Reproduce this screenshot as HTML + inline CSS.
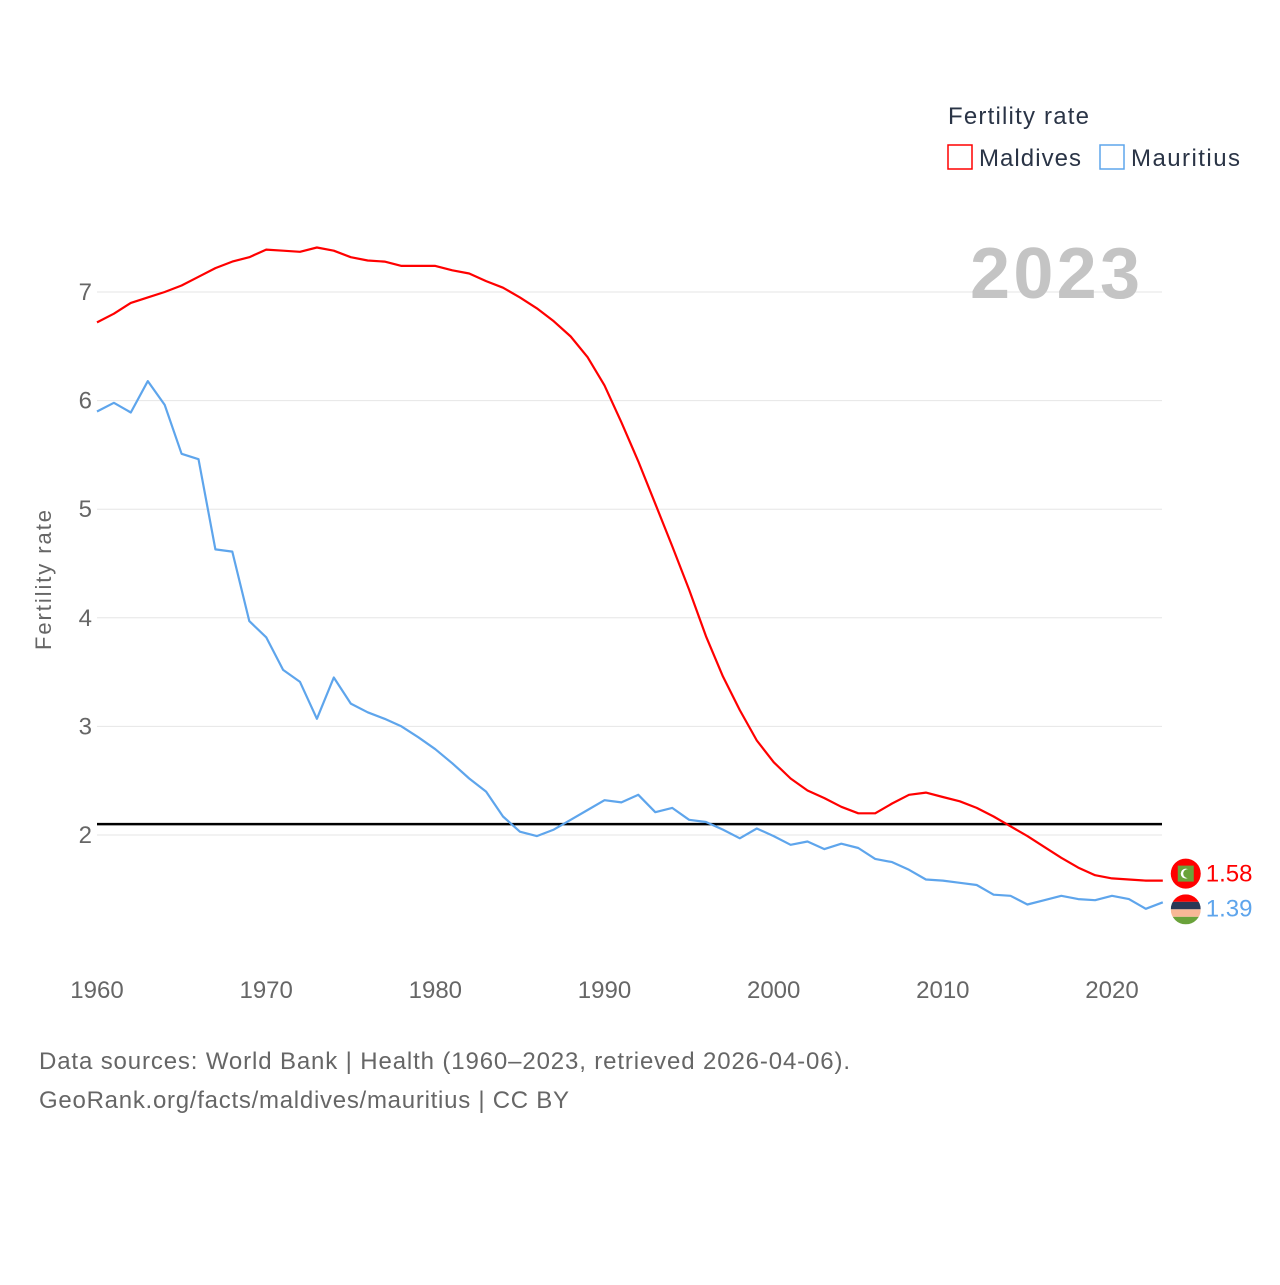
<!DOCTYPE html>
<html><head><meta charset="utf-8"><style>
body{margin:0;background:#fff;width:1280px;height:1280px;overflow:hidden;font-family:"Liberation Sans",sans-serif}
</style></head><body>
<svg id="chart" width="1280" height="1280" viewBox="0 0 1280 1280" xmlns="http://www.w3.org/2000/svg" font-family="Liberation Sans, sans-serif">
<g id="grid"></g>
<g id="yticks"></g>
<g id="xticks"></g>
<text transform="translate(51,580) rotate(-90)" text-anchor="middle" font-size="22" fill="#666" textLength="140">Fertility rate</text>
<text x="1140" y="298" text-anchor="end" font-size="72" font-weight="bold" fill="#c4c4c4" textLength="170">2023</text>
<g id="series"></g>
<g>
<text x="948" y="124" font-size="24" fill="#2a3446" textLength="141">Fertility rate</text>
<rect x="948" y="145" width="24" height="24" fill="none" stroke="#ff0000" stroke-width="1.5"/>
<text x="979" y="166" font-size="24" fill="#2a3446" textLength="102">Maldives</text>
<rect x="1100" y="145" width="24" height="24" fill="none" stroke="#5ea5ec" stroke-width="1.5"/>
<text x="1131" y="166" font-size="24" fill="#2a3446" textLength="109">Mauritius</text>
</g>
<text x="39" y="1069" font-size="24" fill="#666" textLength="811">Data sources: World Bank | Health (1960–2023, retrieved 2026-04-06).</text>
<text x="39" y="1108" font-size="24" fill="#666" textLength="530">GeoRank.org/facts/maldives/mauritius | CC BY</text>
</svg>
<script>
const years=[];for(let y=1960;y<=2023;y++)years.push(y);
const maldives=[6.72,6.80,6.90,6.95,7.00,7.06,7.14,7.22,7.28,7.32,7.39,7.38,7.37,7.41,7.38,7.32,7.29,7.28,7.24,7.24,7.24,7.20,7.17,7.10,7.04,6.95,6.85,6.73,6.59,6.40,6.14,5.80,5.44,5.05,4.66,4.26,3.83,3.46,3.15,2.87,2.67,2.52,2.41,2.34,2.26,2.20,2.20,2.29,2.37,2.39,2.35,2.31,2.25,2.17,2.08,1.99,1.89,1.79,1.70,1.63,1.60,1.59,1.58,1.58];
const mauritius=[5.90,5.98,5.89,6.18,5.96,5.51,5.46,4.63,4.61,3.97,3.82,3.52,3.41,3.07,3.45,3.21,3.13,3.07,3.00,2.90,2.79,2.66,2.52,2.40,2.17,2.03,1.99,2.05,2.14,2.23,2.32,2.30,2.37,2.21,2.25,2.14,2.12,2.05,1.97,2.06,1.99,1.91,1.94,1.87,1.92,1.88,1.78,1.75,1.68,1.59,1.58,1.56,1.54,1.45,1.44,1.36,1.40,1.44,1.41,1.40,1.44,1.41,1.32,1.38];
const yTicks=[2,3,4,5,6,7];
const xTicks=[1960,1970,1980,1990,2000,2010,2020];
const replacement=2.1;
const lastLabels=["1.58","1.39"];
const NS="http://www.w3.org/2000/svg";
const X=y=>97+(y-1960)*(1015/60);
const Y=v=>835-(v-2)*108.6;
function mk(t,a,p){const e=document.createElementNS(NS,t);for(const k in a)e.setAttribute(k,a[k]);p.appendChild(e);return e;}
const grid=document.getElementById('grid'),yt=document.getElementById('yticks'),xt=document.getElementById('xticks'),ser=document.getElementById('series');
yTicks.forEach(v=>{
 const l=mk('line',{x1:97,x2:1162,y1:Y(v),y2:Y(v),stroke:'#e6e6e6','stroke-width':1},grid);
 
 
 const t=mk('text',{x:92,y:Y(v)+8,'text-anchor':'end','font-size':24,fill:'#666'},yt);t.textContent=v;
 
 
});
xTicks.forEach(v=>{
 const t=mk('text',{x:X(v),y:998,'text-anchor':'middle','font-size':24,fill:'#666'},xt);t.textContent=v;
 
 
});
const rl=mk('line',{x1:97,x2:1162,y1:Y(replacement),y2:Y(replacement),stroke:'#000','stroke-width':2.5},ser);


function line(vals,color,name){
 const d=vals.map((v,i)=>(i?'L':'M')+X(years[i]).toFixed(1)+','+Y(v).toFixed(1)).join('');
 const p=mk('path',{d:d,fill:'none',stroke:color,'stroke-width':2.2,'stroke-linejoin':'round'},ser);
 
 
}
line(mauritius,'#5ea5ec','line-mauritius');
line(maldives,'#ff0000','line-maldives');
const lx=X(2023);
const m1=mk('circle',{cx:lx+23,cy:Y(maldives[63])-7,r:15,fill:'#ff0000'},ser);


mk('rect',{x:lx+15,y:Y(maldives[63])-15,width:16,height:16,fill:'#6aa23a'},ser);
mk('circle',{cx:lx+23,cy:Y(maldives[63])-7,r:5,fill:'#fff'},ser);
mk('circle',{cx:lx+25,cy:Y(maldives[63])-7,r:4.5,fill:'#6aa23a'},ser);
const t1=mk('text',{x:lx+43,y:Y(maldives[63])+1,'font-size':24,fill:'#ff0000'},ser);t1.textContent=lastLabels[0];


const cy2=Y(mauritius[63])+7;
const m2=mk('g',{},ser);


mk('clipPath',{id:'cp'},m2);
mk('circle',{cx:lx+23,cy:cy2,r:15},document.getElementById('cp'));
const cols=['#ff0000','#2a3856','#f8b896','#6aa23a'];
cols.forEach((c,i)=>mk('rect',{x:lx+8,y:cy2-15+i*7.5,width:30,height:7.5,fill:c,'clip-path':'url(#cp)'},m2));
const t2=mk('text',{x:lx+43,y:Y(mauritius[63])+14,'font-size':24,fill:'#5ea5ec'},ser);t2.textContent=lastLabels[1];


</script>
</body></html>
